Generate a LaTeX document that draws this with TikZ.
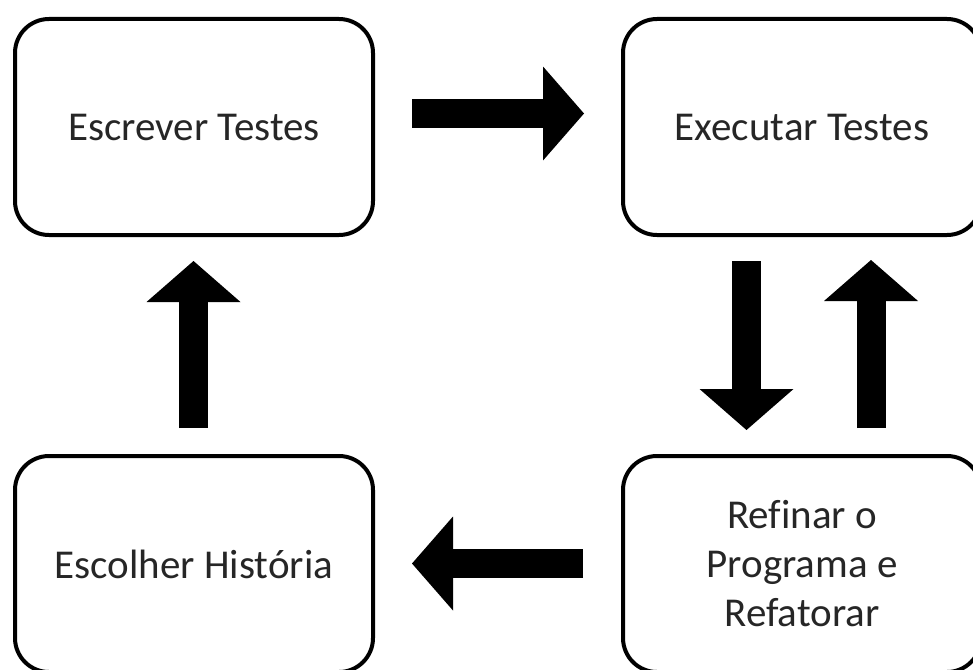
\documentclass[tikz,border=0pt]{standalone}
\usepackage{fontspec}
\setmainfont[Ligatures=NoCommon]{Carlito}
\usetikzlibrary{arrows.meta,calc}

\tikzset{
  stage/.style={draw=black, line width=4pt, rounded corners=34pt,
    minimum width=358pt, minimum height=216pt, inner sep=0pt,
    align=center, text=black!85, font=\fontsize{41}{49}\selectfont},
  blockarrow/.style={line width=29pt, line cap=butt,
    -{Triangle[length=41pt, width=94pt, line width=0pt]}}
}

\begin{document}
\begin{tikzpicture}[x=1pt, y=-1pt]
  \useasboundingbox (0,0) rectangle (973,669);
  \clip (0,0) rectangle (973,669);

  % the four stages of the cycle
  \node[stage] (write)  at (194,127) {Escrever Testes};
  \node[stage] (run)    at (802,127) {Executar Testes};
  \node[stage] (choose) at (194,564) {Escolher História};
  \node[stage] (refine) at (802,564) {Refinar o\\Programa e\\Refatorar};

  % end points of the block arrows, kept clear of the boxes
  \coordinate (w2r-a) at ($(write.east)+(37,-13.5)$);
  \coordinate (w2r-b) at ($(run.west)+(-37,-13.5)$);
  \coordinate (r2f-a) at ($(run.south)+(-55.5,24)$);
  \coordinate (r2f-b) at ($(refine.north)+(-55.5,-24)$);
  \coordinate (f2r-a) at ($(refine.north)+(69,-26)$);
  \coordinate (f2r-b) at ($(run.south)+(69,23)$);
  \coordinate (f2c-a) at ($(refine.west)+(-38,-0.5)$);
  \coordinate (f2c-b) at ($(choose.east)+(37,-0.5)$);
  \coordinate (c2w-a) at ($(choose.north)+(-0.5,-26)$);
  \coordinate (c2w-b) at ($(write.south)+(-0.5,24)$);

  \draw[blockarrow] (w2r-a) -- (w2r-b);
  \draw[blockarrow] (r2f-a) -- (r2f-b);
  \draw[blockarrow] (f2r-a) -- (f2r-b);
  \draw[blockarrow] (f2c-a) -- (f2c-b);
  \draw[blockarrow] (c2w-a) -- (c2w-b);
\end{tikzpicture}
\end{document}
